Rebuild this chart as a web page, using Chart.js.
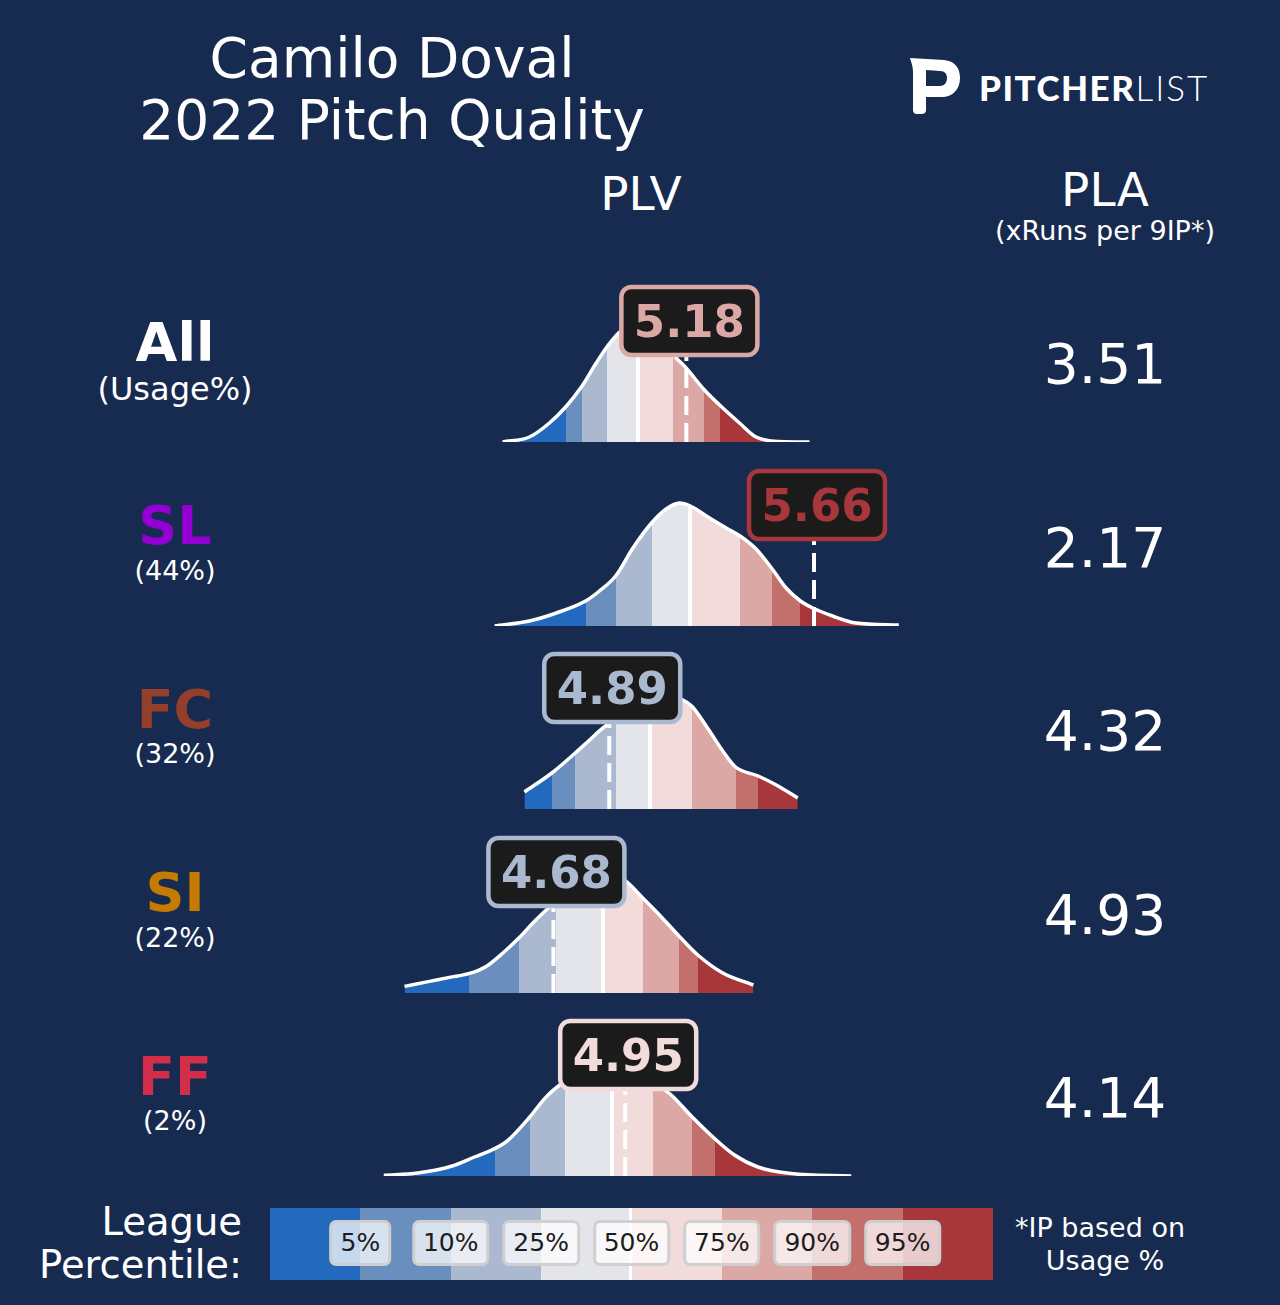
<!DOCTYPE html>
<html>
<head>
<meta charset="utf-8">
<script src="https://cdn.jsdelivr.net/npm/chart.js@4.4.1/dist/chart.umd.min.js"></script>
<style>
html,body{margin:0;padding:0;background:#172a4f;}
body{width:1280px;height:1305px;position:relative;overflow:hidden;font-family:'DejaVu Sans',sans-serif;color:#fff;}
.t{position:absolute;white-space:nowrap;line-height:1;transform:translate(-50%,-50%);text-align:center;}
.r{position:absolute;white-space:nowrap;line-height:1;transform:translate(-100%,-50%);text-align:right;}
canvas.row{position:absolute;}
#bar{position:absolute;left:270px;top:1208px;width:723px;height:72px;display:flex;}
#bar div{flex:1;height:100%;}
.pbox{position:absolute;transform:translate(-50%,-50%);height:40px;line-height:40px;padding:0 8px;font-size:25px;color:#1c1c1c;background:rgba(255,255,255,0.74);border:3px solid rgba(205,205,205,0.95);border-radius:7px;white-space:nowrap;}
</style>
</head>
<body>
<script>
// ---------- data ----------
const pitchTypes   = ['All', 'SL', 'FC', 'SI', 'FF'];
const usageLabels  = ['(Usage%)', '(44%)', '(32%)', '(22%)', '(2%)'];
const pitchColors  = ['#ffffff', '#9400d3', '#933f2c', '#c57a02', '#d22d49'];
const plvValues    = [5.18, 5.66, 4.89, 4.68, 4.95];
const plaValues    = ['3.51', '2.17', '4.32', '4.93', '4.14'];
const percentileLabels = ['5%', '10%', '25%', '50%', '75%', '90%', '95%'];
const bandColors   = ['#2369bd', '#6a8fbf', '#aab9d0', '#e4e5eb', '#f2dcdb', '#dba8a5', '#c3706c', '#a8373b'];

// league PLV percentile cut points (5,10,25,50,75,90,95)
const pctAll = [4.726, 4.786, 4.880, 5.000, 5.128, 5.248, 5.305];
const pctSL  = [4.801, 4.914, 5.049, 5.195, 5.382, 5.503, 5.609];
const pctFC  = [4.674, 4.762, 4.914, 5.044, 5.200, 5.365, 5.450];
const pctSI  = [4.361, 4.550, 4.691, 4.866, 5.016, 5.152, 5.223];
const pctFF  = [4.459, 4.591, 4.722, 4.902, 5.055, 5.202, 5.288];

// league PLV density curves (x = PLV, y = density)
const densAllX = [4.489, 4.590, 4.665, 4.726, 4.785, 4.841, 4.881, 4.929, 4.966, 5.023, 5.079, 5.142, 5.179, 5.248, 5.305, 5.380, 5.442, 5.530, 5.643];
const densAllY = [0.00, 0.05, 0.19, 0.35, 0.55, 0.79, 0.95, 1.10, 1.15, 1.13, 1.03, 0.84, 0.74, 0.52, 0.37, 0.19, 0.05, 0.005, 0.00];
const densSLX  = [4.459, 4.590, 4.691, 4.801, 4.853, 4.914, 4.979, 5.049, 5.104, 5.154, 5.195, 5.267, 5.330, 5.382, 5.442, 5.503, 5.555, 5.609, 5.655, 5.730, 5.818, 5.979];
const densSLY  = [0.00, 0.05, 0.13, 0.25, 0.35, 0.50, 0.78, 1.03, 1.17, 1.23, 1.20, 1.08, 0.98, 0.90, 0.77, 0.57, 0.38, 0.25, 0.18, 0.10, 0.03, 0.01];
const densFCX  = [4.571, 4.674, 4.762, 4.816, 4.866, 4.929, 5.004, 5.079, 5.135, 5.167, 5.200, 5.267, 5.317, 5.365, 5.450, 5.518, 5.599];
const densFCY  = [0.17, 0.36, 0.56, 0.69, 0.81, 0.92, 1.02, 1.09, 1.11, 1.09, 1.03, 0.78, 0.58, 0.42, 0.33, 0.24, 0.11];
const densSIX  = [4.120, 4.214, 4.289, 4.361, 4.427, 4.490, 4.550, 4.603, 4.653, 4.703, 4.778, 4.853, 4.910, 4.947, 5.016, 5.079, 5.152, 5.223, 5.317, 5.432];
const densSIY  = [0.066, 0.116, 0.156, 0.193, 0.266, 0.40, 0.55, 0.70, 0.83, 0.93, 1.06, 1.15, 1.17, 1.13, 0.95, 0.78, 0.57, 0.38, 0.20, 0.08];
const densFFX  = [4.042, 4.170, 4.296, 4.383, 4.459, 4.509, 4.591, 4.647, 4.703, 4.759, 4.835, 4.910, 4.985, 5.060, 5.123, 5.202, 5.288, 5.361, 5.449, 5.574, 5.800];
const densFFY  = [0.007, 0.03, 0.097, 0.19, 0.274, 0.357, 0.59, 0.774, 0.907, 0.98, 1.03, 1.05, 1.02, 0.93, 0.81, 0.59, 0.37, 0.21, 0.09, 0.024, 0.00];

const pctCuts = [pctAll, pctSL, pctFC, pctSI, pctFF];
const densX = [densAllX, densSLX, densFCX, densSIX, densFFX];
const densY = [densAllY, densSLY, densFCY, densSIY, densFFY];

// ---------- layout ----------
const X_MIN = 3.9, X_MAX = 6.1, Y_MAX = 1.70, LABEL_Y = 1.21;
const baselines = [442, 626, 809, 993, 1176];
const rowStep = 183.5;

function addText(cls, txt, x, y, style) {
  const d = document.createElement('div');
  d.className = cls; d.textContent = txt;
  d.style.left = x + 'px'; d.style.top = y + 'px';
  Object.assign(d.style, style || {});
  document.body.appendChild(d);
  return d;
}

// header
addText('t', 'Camilo Doval', 392, 58, {fontSize: '55px'});
addText('t', '2022 Pitch Quality', 392, 120, {fontSize: '55px'});
addText('t', 'PLV', 641, 193, {fontSize: '47px'});
addText('t', 'PLA', 1105, 189, {fontSize: '47px'});
addText('t', '(xRuns per 9IP*)', 1105, 230, {fontSize: '27px'});

// logo
const svgNS = 'http://www.w3.org/2000/svg';
const svg = document.createElementNS(svgNS, 'svg');
svg.setAttribute('width', '1280'); svg.setAttribute('height', '140');
svg.style.position = 'absolute'; svg.style.left = '0'; svg.style.top = '0';
const path = document.createElementNS(svgNS, 'path');
path.setAttribute('d', 'M910,58 L944,60 C955,61 960,68 960,78 C960,90 952,97 942,97 L926,97 L926,110 C926,113 924,114 921,114 L917,114 C914,114 913,112 913,110 L913,72 C913,66 911,62 910,58 Z M926,70 L940,71 C945,71 947,74 947,78 C947,83 944,86 940,86 L926,86 Z');
path.setAttribute('fill', '#ffffff'); path.setAttribute('fill-rule', 'evenodd');
svg.appendChild(path);
document.body.appendChild(svg);
const logo = document.createElement('div');
logo.style.cssText = 'position:absolute;left:979px;top:70px;font-family:Lato,"Open Sans",sans-serif;font-size:35px;line-height:1;white-space:nowrap;color:#fff;';
logo.innerHTML = '<span style="font-weight:900;letter-spacing:1.5px">PITCHER</span><span style="font-weight:300;letter-spacing:2px">LIST</span>';
document.body.appendChild(logo);

// gradient with hard percentile bands + white median stripe
function bandGradient(context, cuts) {
  const chart = context.chart;
  const area = chart.chartArea;
  if (!area) return null;
  const xs = chart.scales.x;
  const w = area.right - area.left;
  const t = p => Math.min(1, Math.max(0, (p - area.left) / w));
  const g = chart.ctx.createLinearGradient(area.left, 0, area.right, 0);
  const px = cuts.map(c => xs.getPixelForValue(c));
  const starts = [area.left].concat(px);
  const ends = px.concat([area.right]);
  let last = 0;
  const add = (pos, col) => { const v = Math.max(last, t(pos)); g.addColorStop(v, col); last = v; };
  for (let i = 0; i < bandColors.length; i++) {
    let s = starts[i], e = ends[i];
    if (i === 4) s = s + 2;
    if (i === 3) e = e - 2;
    add(s, bandColors[i]);
    add(e, bandColors[i]);
    if (i === 3) { add(e, '#ffffff'); add(px[3] + 2, '#ffffff'); }
  }
  return g;
}

const labelPlugin = {
  id: 'plvLabel',
  afterDatasetsDraw(chart, args, opts) {
    const {ctx} = chart;
    const xs = chart.scales.x, ys = chart.scales.y;
    const cx = xs.getPixelForValue(opts.value) + 3;
    const cy = ys.getPixelForValue(opts.y);
    const w = 136, h = 68;
    ctx.save();
    ctx.beginPath();
    ctx.roundRect(cx - w / 2, cy - h / 2, w, h, 10);
    ctx.fillStyle = '#1b1b1b';
    ctx.fill();
    ctx.lineWidth = 4.5;
    ctx.strokeStyle = opts.color;
    ctx.stroke();
    ctx.fillStyle = opts.color;
    ctx.font = 'bold 45px "DejaVu Sans"';
    ctx.textAlign = 'center';
    ctx.textBaseline = 'alphabetic';
    ctx.fillText(opts.text, cx, cy + 16);
    ctx.restore();
  }
};

pitchTypes.forEach((pt, i) => {
  const base = baselines[i];
  const cy = 342.5 + i * rowStep;
  addText('t', pt, 175, cy, {fontSize: '54px', fontWeight: 'bold', color: pitchColors[i]});
  addText('t', usageLabels[i], 175, cy + (i === 0 ? 46 : 43.5), {fontSize: i === 0 ? '32px' : '27px'});
  addText('t', plaValues[i], 1105, 364 + i * rowStep, {fontSize: '55px'});

  const canvas = document.createElement('canvas');
  canvas.className = 'row';
  canvas.width = 585; canvas.height = 174;
  canvas.style.left = '346px';
  canvas.style.top = (base - 170) + 'px';
  canvas.style.width = '585px'; canvas.style.height = '174px';
  document.body.appendChild(canvas);

  const cuts = pctCuts[i];
  const bandIdx = cuts.filter(c => c < plvValues[i]).length;
  const boxColor = bandColors[bandIdx];
  const curve = densX[i].map((x, k) => ({x: x, y: densY[i][k]}));

  new Chart(canvas, {
    type: 'line',
    data: {
      datasets: [
        {
          data: [{x: plvValues[i], y: 0}, {x: plvValues[i], y: LABEL_Y}],
          borderColor: '#ffffff', borderWidth: 4, borderDash: [19, 8], borderCapStyle: 'butt',
          pointRadius: 0, fill: false, order: 0
        },
        {
          data: curve,
          borderColor: '#ffffff', borderWidth: 3.5,
          backgroundColor: ctx => bandGradient(ctx, cuts),
          fill: 'origin', cubicInterpolationMode: 'monotone',
          pointRadius: 0, order: 1
        }
      ]
    },
    options: {
      responsive: false, animation: false,
      layout: {padding: {left: 0, right: 0, top: 0, bottom: 4}},
      scales: {
        x: {type: 'linear', min: X_MIN, max: X_MAX, display: false},
        y: {type: 'linear', min: 0, max: Y_MAX, display: false}
      },
      plugins: {
        legend: {display: false}, tooltip: {enabled: false},
        plvLabel: {value: plvValues[i], text: plvValues[i].toFixed(2), y: LABEL_Y, color: boxColor}
      }
    },
    plugins: [labelPlugin]
  });
});

// legend bar
const bar = document.createElement('div');
bar.id = 'bar';
bandColors.forEach(c => { const d = document.createElement('div'); d.style.background = c; bar.appendChild(d); });
document.body.appendChild(bar);
const mid = document.createElement('div');
mid.style.cssText = 'position:absolute;left:629px;top:1208px;width:3px;height:72px;background:#fff;';
document.body.appendChild(mid);
percentileLabels.forEach((p, k) => {
  const x = 270 + (k + 1) * 723 / 8;
  const b = addText('pbox', p, x, 1243);
  b.className = 'pbox';
});
addText('r', 'League', 242, 1222, {fontSize: '38.5px'});
addText('r', 'Percentile:', 242, 1265, {fontSize: '38.5px'});
addText('t', '*IP based on', 1100, 1227, {fontSize: '27px'});
addText('t', 'Usage %', 1105, 1260, {fontSize: '27px'});
</script>
</body>
</html>
